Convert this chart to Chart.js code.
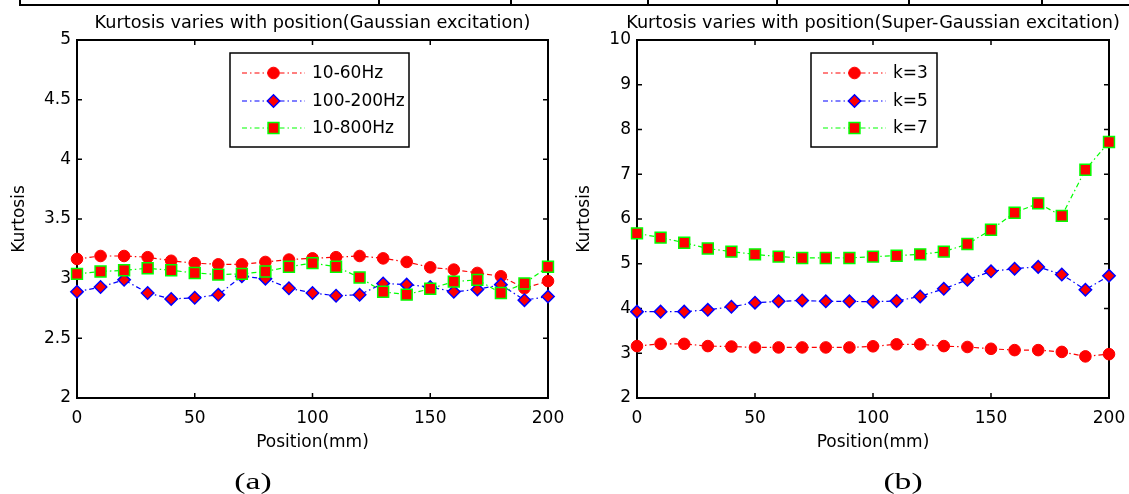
<!DOCTYPE html>
<html><head><meta charset="utf-8">
<script src="https://cdn.jsdelivr.net/npm/chart.js@4"></script>
<style>
html,body{margin:0;padding:0;background:#fff;width:1129px;height:494px;overflow:hidden;position:relative}
canvas{position:absolute;top:0}
#ca{left:0}
#cb{left:565px}
.ln{position:absolute;background:#000}
</style></head><body>
<div class="ln" style="left:19px;top:4px;width:1110px;height:2px"></div>
<div class="ln" style="left:19px;top:0;width:2px;height:5px"></div>
<div class="ln" style="left:378px;top:0;width:2px;height:5px"></div>
<div class="ln" style="left:510px;top:0;width:2px;height:5px"></div>
<div class="ln" style="left:647px;top:0;width:2px;height:5px"></div>
<div class="ln" style="left:776px;top:0;width:2px;height:5px"></div>
<div class="ln" style="left:908px;top:0;width:2px;height:5px"></div>
<div class="ln" style="left:1041px;top:0;width:2px;height:5px"></div>
<canvas id="ca" width="565" height="494"></canvas>
<canvas id="cb" width="564" height="494"></canvas>
<script>
// ---- data ----
const positions = [0,10,20,30,40,50,60,70,80,90,100,110,120,130,140,150,160,170,180,190,200];
const xTicks = [0,50,100,150,200];
const yTicksA = [2,2.5,3,3.5,4,4.5,5];
const yTicksB = [2,3,4,5,6,7,8,9,10];
const titleA = 'Kurtosis varies with position(Gaussian excitation)';
const titleB = 'Kurtosis varies with position(Super-Gaussian excitation)';
const tagA = '(a)';
const tagB = '(b)';
const xLabel = 'Position(mm)';
const yLabel = 'Kurtosis';
const labelsA = ['10-60Hz','100-200Hz','10-800Hz'];
const labelsB = ['k=3','k=5','k=7'];

const band10_60   = [3.165,3.19,3.19,3.18,3.15,3.13,3.12,3.12,3.14,3.16,3.17,3.18,3.19,3.17,3.14,3.095,3.076,3.048,3.02,2.92,2.98];
const band100_200 = [2.89,2.93,2.99,2.88,2.83,2.84,2.865,3.02,3.00,2.92,2.88,2.857,2.865,2.96,2.95,2.93,2.89,2.91,2.95,2.82,2.85];
const band10_800  = [3.04,3.06,3.07,3.087,3.07,3.048,3.034,3.04,3.06,3.10,3.13,3.10,3.01,2.89,2.866,2.916,2.975,2.99,2.88,2.96,3.10];

const k3 = [3.16,3.21,3.21,3.16,3.15,3.13,3.13,3.13,3.13,3.13,3.155,3.20,3.20,3.16,3.14,3.10,3.07,3.07,3.03,2.93,2.98];
const k5 = [3.93,3.93,3.93,3.97,4.04,4.13,4.16,4.18,4.16,4.16,4.15,4.17,4.27,4.44,4.64,4.83,4.89,4.93,4.76,4.42,4.73];
const k7 = [5.68,5.585,5.47,5.34,5.27,5.21,5.16,5.13,5.13,5.13,5.16,5.18,5.21,5.27,5.44,5.76,6.14,6.35,6.07,7.10,7.72];

// ---- styling ----
Chart.defaults.font.family = '"DejaVu Sans", sans-serif';
Chart.defaults.font.size = 17;
Chart.defaults.color = '#000';

const DASH = [5,3,1.5,3];
const styles = [
  {borderColor:'#ff0000', pointStyle:'circle', pointRadius:5.8, pointBackgroundColor:'#ff0000', pointBorderColor:'#ff0000', pointBorderWidth:1, order:3},
  {borderColor:'#0000ff', pointStyle:'rectRot', pointRadius:6.2, pointBackgroundColor:'#ff0000', pointBorderColor:'#0000ff', pointBorderWidth:1.5, order:2},
  {borderColor:'#00ff00', pointStyle:'rect', pointRadius:7.7, pointBackgroundColor:'#ff0000', pointBorderColor:'#00ff00', pointBorderWidth:1.5, order:1}
];

function makeDatasets(labels, series){
  return series.map((vals,i)=>Object.assign({
    label: labels[i],
    data: positions.map((p,j)=>({x:p, y:vals[j]})),
    borderWidth:1.2, borderDash:DASH, fill:false, tension:0, clip:false,
    pointHoverRadius: styles[i].pointRadius
  }, styles[i]));
}

const framePlugin = {
  id:'frame',
  beforeDatasetsDraw(chart){
    const {ctx, chartArea:a, scales:{x,y}} = chart;
    ctx.save();
    ctx.strokeStyle='#000';
    ctx.lineWidth=1.5;
    const tl=5;
    ctx.beginPath();
    x.ticks.forEach(t=>{
      const px=x.getPixelForValue(t.value);
      ctx.moveTo(px,a.bottom); ctx.lineTo(px,a.bottom-tl);
      ctx.moveTo(px,a.top); ctx.lineTo(px,a.top+tl);
    });
    y.ticks.forEach(t=>{
      const py=y.getPixelForValue(t.value);
      ctx.moveTo(a.left,py); ctx.lineTo(a.left+tl,py);
      ctx.moveTo(a.right,py); ctx.lineTo(a.right-tl,py);
    });
    ctx.stroke();
    ctx.lineWidth=2;
    ctx.strokeRect(a.left,a.top,a.right-a.left,a.bottom-a.top);
    ctx.restore();
  }
};

const boxLegend = {
  id:'boxLegend',
  afterDraw(chart, args, o){
    const ctx=chart.ctx;
    ctx.save();
    ctx.fillStyle='#fff';
    ctx.fillRect(o.x,o.y,o.w,o.h);
    ctx.strokeStyle='#000'; ctx.lineWidth=1.5;
    ctx.strokeRect(o.x,o.y,o.w,o.h);
    chart.data.datasets.forEach((ds,i)=>{
      const yy=o.y+o.rows[i];
      ctx.setLineDash(ds.borderDash);
      ctx.strokeStyle=ds.borderColor; ctx.lineWidth=ds.borderWidth;
      ctx.beginPath(); ctx.moveTo(o.x+12,yy); ctx.lineTo(o.x+75,yy); ctx.stroke();
      ctx.setLineDash([]);
      ctx.fillStyle=ds.pointBackgroundColor; ctx.strokeStyle=ds.pointBorderColor; ctx.lineWidth=ds.pointBorderWidth;
      Chart.helpers.drawPoint(ctx,{pointStyle:ds.pointStyle, radius:ds.pointRadius, borderWidth:ds.pointBorderWidth, rotation:0}, o.x+43.5, yy);
      ctx.fillStyle='#000';
      ctx.font='17px "DejaVu Sans"';
      ctx.textBaseline='middle'; ctx.textAlign='left';
      ctx.fillText(ds.label, o.x+82, yy+1);
    });
    ctx.restore();
  }
};

const textPlugin = {
  id:'texts',
  afterDraw(chart,args,o){
    const ctx=chart.ctx, a=chart.chartArea;
    ctx.save();
    ctx.fillStyle='#000';
    ctx.font='17.7px "DejaVu Sans"';
    ctx.textAlign='center'; ctx.textBaseline='alphabetic';
    ctx.fillText(o.title,(a.left+a.right)/2, 28);
    ctx.translate(o.tagX, 489);
    ctx.scale(1.4,1);
    ctx.font='24px "Liberation Serif"';
    ctx.fillText(o.tag,0,0);
    ctx.restore();
  }
};

function makeChart(id, labels, series, yTicks, yMax, yWidth, rightPad, title, tag, tagX, legendBox){
  return new Chart(document.getElementById(id), {
    type:'line',
    data:{datasets: makeDatasets(labels, series)},
    options:{
      responsive:false, animation:false, maintainAspectRatio:false,
      layout:{padding:{top:40,bottom:34,left:0,right:rightPad}},
      plugins:{
        legend:{display:false}, tooltip:{enabled:false}, title:{display:false},
        boxLegend: legendBox,
        texts:{title:title, tag:tag, tagX:tagX}
      },
      scales:{
        x:{type:'linear', min:0, max:200,
          afterBuildTicks:s=>{s.ticks = xTicks.map(v=>({value:v}));},
          afterFit:s=>{s.height=62; s.paddingLeft=0; s.paddingRight=0;},
          ticks:{padding:10, maxRotation:0, autoSkip:false, callback:v=>String(v)},
          grid:{display:false, drawTicks:false},
          border:{display:false},
          title:{display:true, text:xLabel, padding:{top:0,bottom:7}}
        },
        y:{type:'linear', min:2, max:yMax,
          afterBuildTicks:s=>{s.ticks = yTicks.map(v=>({value:v}));},
          afterFit:s=>{s.width=yWidth; s.paddingTop=0; s.paddingBottom=0;},
          ticks:{padding:6, autoSkip:false, callback:v=>String(v)},
          grid:{display:false, drawTicks:false},
          border:{display:false},
          title:{display:true, text:yLabel, padding:{top:9,bottom:0}}
        }
      }
    },
    plugins:[framePlugin, boxLegend, textPlugin]
  });
}

makeChart('ca', labelsA, [band10_60, band100_200, band10_800], yTicksA, 5, 77, 17, titleA, tagA, 253,
  {x:230, y:53, w:179, h:94, rows:[20,48,75]});
makeChart('cb', labelsB, [k3, k5, k7], yTicksB, 10, 72, 20, titleB, tagB, 338,
  {x:246, y:53, w:126, h:94, rows:[20,48,75]});
</script>
</body></html>
